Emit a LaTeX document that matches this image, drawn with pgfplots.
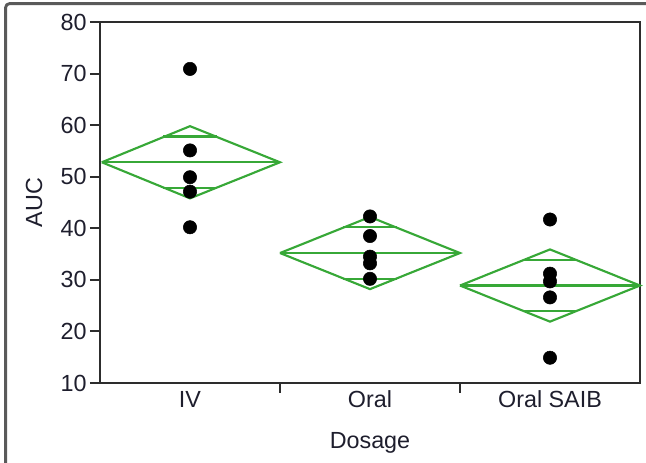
\documentclass[border=0pt]{standalone}
\usepackage{pgfplots}
\pgfplotsset{compat=1.18}
\usepackage{fontspec}
\setmainfont{Liberation Sans}

\definecolor{diamondgreen}{RGB}{55,168,55}
\definecolor{axisgray}{RGB}{45,45,45}
\definecolor{framegray}{RGB}{90,90,90}
\definecolor{labeltext}{RGB}{30,30,45}

\begin{document}
\begin{tikzpicture}
\begin{axis}[
  scale only axis,
  width=405pt, height=270.75pt,
  xmin=-0.5, xmax=2.5,
  ymin=10, ymax=80,
  clip=false,
  ytick={10,20,...,80},
  % group separators carry the x tick marks
  xtick={0.5,1.5},
  xticklabels={},
  % group names sit under the group centres, without tick marks
  extra x ticks={0,1,2},
  extra x tick labels={IV,Oral,Oral SAIB},
  extra x tick style={major tick length=0pt},
  tick pos=left,
  tick align=outside,
  major tick length=7.5pt,
  every tick/.style={axisgray, line width=1.6pt},
  axis line style={axisgray, line width=1.8pt},
  /pgf/number format/assume math mode=true,
  tick label style={font=\fontsize{17.5}{20}\selectfont, text=labeltext},
  yticklabel style={xshift=1pt},
  xticklabel style={yshift=-2.5pt},
  label style={font=\fontsize{17.5}{20}\selectfont, text=labeltext},
  xlabel={Dosage},
  ylabel={AUC},
  xlabel style={at={(axis description cs:0.5,0)}, anchor=base, yshift=-49.5pt},
  ylabel style={at={(axis description cs:-0.1222,0.5)}, anchor=center},
]
% mean diamonds: 95% interval of each group mean
\addplot[diamondgreen, line width=1.6pt] coordinates
  {(-0.49,52.8) (0,59.8) (0.5,52.8) (0,45.8) (-0.49,52.8)};
\addplot[diamondgreen, line width=1.6pt] coordinates
  {(0.5,35.2) (1,42.2) (1.5,35.2) (1,28.2) (0.5,35.2)};
\addplot[diamondgreen, line width=1.6pt] coordinates
  {(1.5,28.9) (2,35.9) (2.5,28.9) (2,21.9) (1.5,28.9)};
% group means
\addplot[diamondgreen, line width=1.6pt] coordinates {(-0.49,52.8) (0.5,52.8)};
\addplot[diamondgreen, line width=1.6pt] coordinates {(0.5,35.2) (1.5,35.2)};
\addplot[diamondgreen, line width=1.6pt] coordinates {(1.5,28.9) (2.5,28.9)};
% overlap marks
\addplot[diamondgreen, line width=1.6pt] coordinates {(-0.15,57.8) (0.15,57.8)};
\addplot[diamondgreen, line width=1.6pt] coordinates {(-0.15,47.8) (0.15,47.8)};
\addplot[diamondgreen, line width=1.6pt] coordinates {(0.85,40.2) (1.15,40.2)};
\addplot[diamondgreen, line width=1.6pt] coordinates {(0.85,30.2) (1.15,30.2)};
\addplot[diamondgreen, line width=1.6pt] coordinates {(1.85,33.9) (2.15,33.9)};
\addplot[diamondgreen, line width=1.6pt] coordinates {(1.85,23.9) (2.15,23.9)};
% observations
\addplot[only marks, mark=*, mark size=5pt, black] coordinates {
  (0,70.9) (0,55.1) (0,49.9) (0,47.1) (0,40.2)
  (1,42.3) (1,38.5) (1,34.5) (1,33.2) (1,30.2)
  (2,41.7) (2,31.2) (2,29.7) (2,26.6) (2,14.9)
};
\coordinate (sw) at (rel axis cs:0,0);
\coordinate (ne) at (rel axis cs:1,1);
\end{axis}
\pgfresetboundingbox
\useasboundingbox ([shift={(-75pt,-60pt)}]sw) rectangle ([shift={(4.5pt,16.5pt)}]ne);
% window frame
\draw[framegray, line width=2.2pt, rounded corners=3pt]
  ([shift={(-70.8pt,-62pt)}]sw) -- ([shift={(-70.8pt,13.8pt)}]sw |- ne)
  -- ([shift={(8pt,13.8pt)}]ne);
\end{tikzpicture}
\end{document}
